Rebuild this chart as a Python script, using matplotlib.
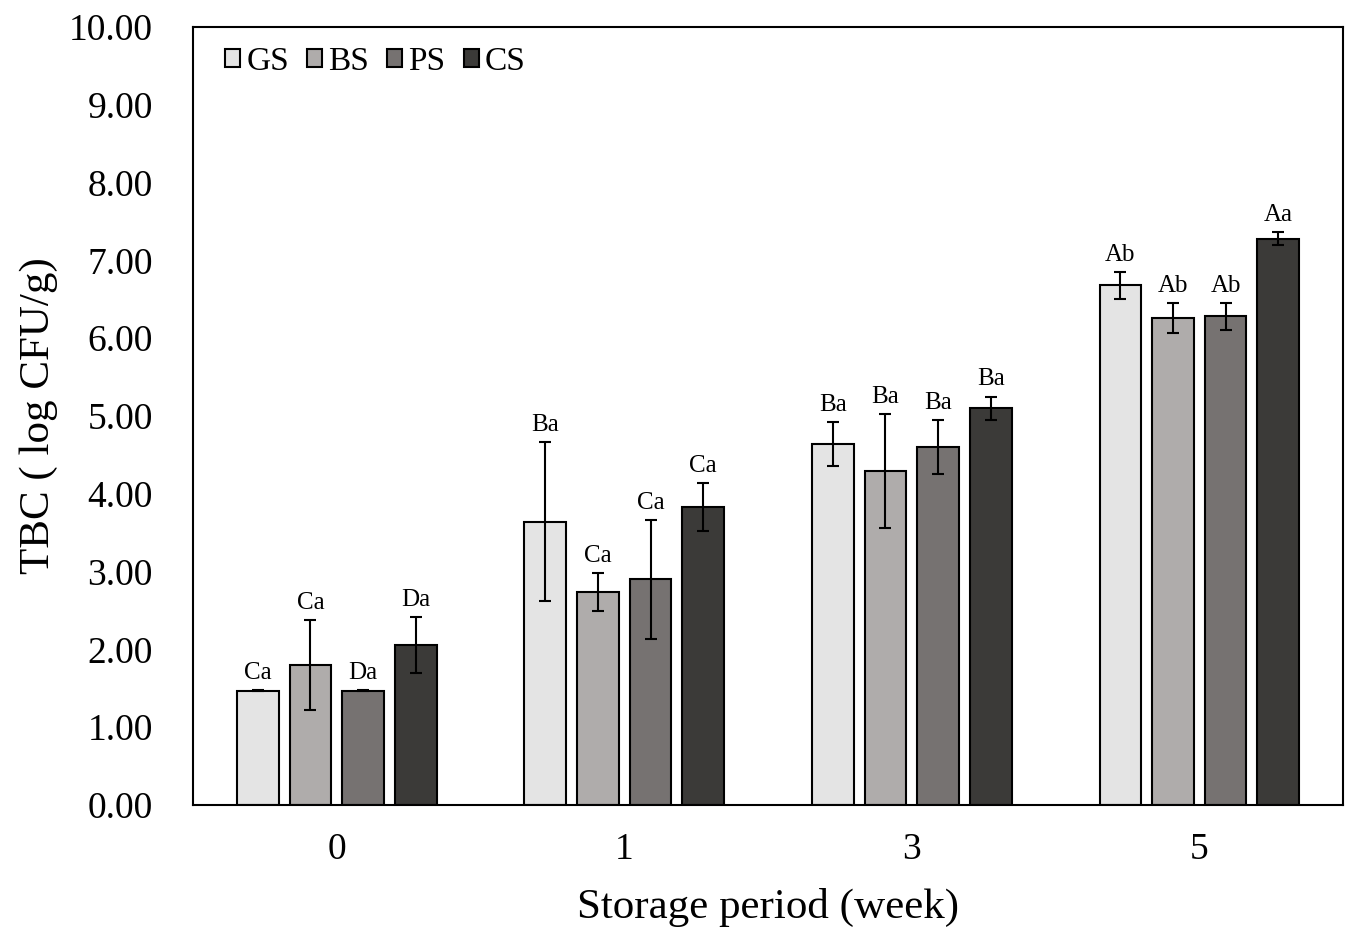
import matplotlib
matplotlib.use("Agg")
import matplotlib.pyplot as plt
import numpy as np

plt.rcParams['font.family'] = ['Liberation Serif', 'DejaVu Serif']

weeks = ["0", "1", "3", "5"]
series = ["GS", "BS", "PS", "CS"]
colors = ["#E4E4E4", "#AFACAB", "#767271", "#3B3A38"]

means = {
    "GS": [1.47, 3.64, 4.64, 6.68],
    "BS": [1.80, 2.74, 4.29, 6.26],
    "PS": [1.47, 2.90, 4.60, 6.28],
    "CS": [2.06, 3.83, 5.10, 7.28],
}
errs = {
    "GS": [0.01, 1.02, 0.28, 0.17],
    "BS": [0.58, 0.24, 0.73, 0.19],
    "PS": [0.01, 0.76, 0.35, 0.17],
    "CS": [0.36, 0.31, 0.15, 0.08],
}
letters = {
    "GS": ["Ca", "Ba", "Ba", "Ab"],
    "BS": ["Ca", "Ca", "Ba", "Ab"],
    "PS": ["Da", "Ca", "Ba", "Ab"],
    "CS": ["Da", "Ca", "Ba", "Aa"],
}

fig = plt.figure(figsize=(13.61, 9.31), dpi=100)
ax = fig.add_axes([0.1418, 0.1353, 0.845, 0.8357])

x = np.arange(len(weeks))
width = 0.145
step = 0.183
for i, s in enumerate(series):
    xs = x + (i - 1.5) * step
    ax.bar(xs, means[s], width, color=colors[i], edgecolor="black",
           linewidth=1.5, label=s, zorder=2)
    ax.errorbar(xs, means[s], yerr=errs[s], fmt="none", ecolor="black",
                elinewidth=1.5, capsize=4, capthick=1.5, zorder=3)
    for xi, m, e, t in zip(xs, means[s], errs[s], letters[s]):
        ax.text(xi, m + e + 0.08, t, ha="center", va="bottom", fontsize=18)

ax.set_xlim(-0.5, len(weeks) - 0.5)
ax.set_ylim(0, 10)
ax.set_yticks(np.arange(0, 11, 1))
ax.set_yticklabels([f"{v:.2f}" for v in np.arange(0, 11, 1)])
ax.set_xticks(x)
ax.set_xticklabels(weeks)
ax.tick_params(axis="both", length=0, labelsize=27)
ax.tick_params(axis="y", pad=29)
ax.tick_params(axis="x", pad=20)
for sp in ax.spines.values():
    sp.set_linewidth(1.5)

ax.set_xlabel("Storage period (week)", fontsize=31, labelpad=15)
ax.set_ylabel("TBC ( log CFU/g)", fontsize=31, labelpad=8)

ax.legend(loc="upper left", ncol=4, frameon=False, fontsize=24,
          handlelength=0.45, handleheight=0.45, handletextpad=0.18,
          columnspacing=0.55, borderaxespad=0, borderpad=0,
          bbox_to_anchor=(0.028, 0.975))

fig.savefig("out.png", dpi=100)
